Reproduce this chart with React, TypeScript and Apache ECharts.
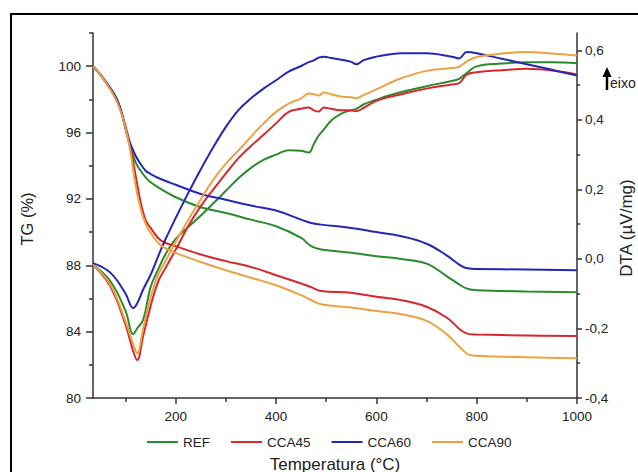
import React, { useEffect, useRef } from "react";
import * as echarts from "echarts";

const seriesNames = ["REF", "CCA45", "CCA60", "CCA90"];
const seriesColors = ["#2b8a2e", "#d6282d", "#2626b4", "#eca243"];

// TG (%) curves, left axis
const tgTemps = [35, 60, 85, 105, 120, 130, 140, 150, 170, 200, 250, 300, 350, 400, 450, 470, 490, 550, 600, 650, 700, 740, 770, 785, 800, 900, 1000];
const tgREF = [100, 99.05, 97.8, 95.6, 94.2, 93.7, 93.3, 93.0, 92.6, 92.1, 91.5, 91.15, 90.75, 90.35, 89.65, 89.15, 88.95, 88.75, 88.55, 88.38, 88.1, 87.35, 86.75, 86.55, 86.5, 86.42, 86.38];
const tgCCA45 = [100, 99.05, 97.75, 95.8, 93.4, 91.8, 90.7, 90.25, 89.5, 89.15, 88.65, 88.25, 87.9, 87.4, 86.9, 86.68, 86.45, 86.35, 86.1, 85.9, 85.5, 84.85, 84.05, 83.85, 83.82, 83.77, 83.73];
const tgCCA60 = [100, 99.1, 97.85, 95.7, 94.6, 94.1, 93.7, 93.5, 93.2, 92.85, 92.3, 91.95, 91.6, 91.3, 90.75, 90.55, 90.45, 90.25, 90.0, 89.75, 89.3, 88.6, 87.95, 87.8, 87.78, 87.74, 87.7];
const tgCCA90 = [100, 99.05, 97.7, 95.6, 92.8, 91.4, 90.5, 89.95, 89.2, 88.75, 88.2, 87.7, 87.25, 86.8, 86.2, 85.9, 85.65, 85.45, 85.25, 85.05, 84.65, 83.85, 82.95, 82.6, 82.55, 82.45, 82.4];

// DTA (µV/mg) curves, right axis
const dtaTemps = [35, 70, 100, 115, 123, 135, 150, 165, 180, 200, 225, 250, 275, 300, 325, 350, 375, 400, 425, 450, 465, 475, 485, 495, 510, 530, 550, 560, 575, 600, 625, 650, 700, 750, 765, 780, 800, 850, 900, 950, 1000];
const dtaREF = [-0.017, -0.065, -0.15, -0.216, -0.2, -0.175, -0.08, -0.03, 0.015, 0.058, 0.092, 0.125, 0.16, 0.196, 0.232, 0.262, 0.285, 0.3, 0.313, 0.311, 0.306, 0.33, 0.355, 0.372, 0.398, 0.418, 0.428, 0.432, 0.445, 0.458, 0.47, 0.48, 0.497, 0.512, 0.518, 0.535, 0.554, 0.562, 0.566, 0.566, 0.563];
const dtaCCA45 = [-0.017, -0.08, -0.19, -0.265, -0.291, -0.222, -0.135, -0.065, -0.025, 0.027, 0.095, 0.152, 0.2, 0.246, 0.29, 0.325, 0.357, 0.39, 0.423, 0.432, 0.436, 0.428, 0.424, 0.436, 0.432, 0.428, 0.427, 0.425, 0.435, 0.455, 0.466, 0.474, 0.49, 0.502, 0.506, 0.53, 0.537, 0.543, 0.547, 0.542, 0.531];
const dtaCCA60 = [-0.012, -0.04, -0.1, -0.141, -0.128, -0.088, -0.045, 0.008, 0.058, 0.118, 0.19, 0.258, 0.322, 0.38, 0.428, 0.462, 0.49, 0.514, 0.539, 0.555, 0.566, 0.571, 0.579, 0.582, 0.578, 0.573, 0.567, 0.56, 0.572, 0.582, 0.588, 0.592, 0.592, 0.582, 0.577, 0.595, 0.592, 0.576, 0.56, 0.544, 0.528];
const dtaCCA90 = [-0.017, -0.075, -0.18, -0.245, -0.271, -0.2, -0.11, -0.045, -0.005, 0.05, 0.113, 0.172, 0.228, 0.274, 0.312, 0.352, 0.39, 0.423, 0.447, 0.462, 0.476, 0.474, 0.47, 0.479, 0.474, 0.467, 0.465, 0.463, 0.472, 0.488, 0.505, 0.52, 0.541, 0.549, 0.553, 0.568, 0.581, 0.591, 0.595, 0.591, 0.585];

const xMajorTicks = [200, 400, 600, 800, 1000];
const xMinorTicks = [100, 300, 500, 700, 900];
const tgMinorTicks = [82, 86, 90, 94, 98, 102];
const dtaMinorTicks = [-0.3, -0.1, 0.1, 0.3, 0.5];

const tgSets = [tgREF, tgCCA45, tgCCA60, tgCCA90];
const dtaSets = [dtaREF, dtaCCA45, dtaCCA60, dtaCCA90];

const FONT = "'Liberation Sans', Arial, sans-serif";
const AXIS_COLOR = "#333";
const TEXT_COLOR = "#222";

function zip(xs: number[], ys: number[]) {
  return xs.map((x, i) => [x, ys[i]]);
}

export default function App() {
  const ref = useRef<HTMLDivElement>(null);

  useEffect(() => {
    if (!ref.current) return;
    const chart = echarts.init(ref.current, null, { renderer: "svg" });

    const lineAxis = { show: true, onZero: false, lineStyle: { color: AXIS_COLOR, width: 1.5 } };
    const tickStyle = { color: AXIS_COLOR, width: 1.5 };
    const labelStyle = { color: TEXT_COLOR, fontSize: 13.5, fontFamily: FONT };

    const series: any[] = [];
    seriesNames.forEach((name, i) => {
      series.push({
        name,
        type: "line",
        xAxisIndex: 0,
        yAxisIndex: 0,
        data: zip(tgTemps, tgSets[i]),
        symbol: "none",
        showSymbol: false,
        smooth: 0.4,
        lineStyle: { color: seriesColors[i], width: 2 },
        itemStyle: { color: seriesColors[i] },
      });
      series.push({
        name,
        type: "line",
        xAxisIndex: 0,
        yAxisIndex: 1,
        data: zip(dtaTemps, dtaSets[i]),
        symbol: "none",
        showSymbol: false,
        smooth: 0.4,
        lineStyle: { color: seriesColors[i], width: 2 },
        itemStyle: { color: seriesColors[i] },
      });
    });

    chart.setOption({
      animation: false,
      backgroundColor: "#ffffff",
      grid: { left: 93, right: 61, top: 33, bottom: 74, containLabel: false },
      legend: {
        data: seriesNames,
        left: 142,
        top: 430,
        icon: "rect",
        itemWidth: 31,
        itemHeight: 2,
        itemGap: 21,
        textStyle: { color: TEXT_COLOR, fontSize: 13.5, fontFamily: FONT },
        selectedMode: false,
      },
      xAxis: [
        {
          type: "value",
          min: 35,
          max: 1000,
          position: "bottom",
          axisLine: lineAxis,
          axisTick: { show: true, length: 6, customValues: xMajorTicks, lineStyle: tickStyle },
          axisLabel: {
            show: true,
            customValues: xMajorTicks,
            margin: 11,
            ...labelStyle,
            formatter: (v: number) => String(v),
          },
          splitLine: { show: false },
        },
        {
          type: "value",
          min: 35,
          max: 1000,
          position: "bottom",
          axisLine: { show: false, onZero: false },
          axisTick: { show: true, length: 4, customValues: xMinorTicks, lineStyle: tickStyle },
          axisLabel: { show: false },
          splitLine: { show: false },
        },
      ],
      yAxis: [
        {
          type: "value",
          min: 80,
          max: 102,
          interval: 4,
          position: "left",
          axisLine: lineAxis,
          axisTick: { show: true, length: 7, lineStyle: tickStyle },
          axisLabel: { margin: 12, showMaxLabel: false, ...labelStyle },
          splitLine: { show: false },
        },
        {
          type: "value",
          min: -0.4,
          max: 0.65,
          interval: 0.2,
          position: "right",
          axisLine: lineAxis,
          axisTick: { show: true, length: 5, lineStyle: tickStyle },
          axisLabel: {
            margin: 8,
            showMaxLabel: false,
            ...labelStyle,
            formatter: (v: number) => v.toFixed(1).replace(".", ","),
          },
          splitLine: { show: false },
        },
        {
          type: "value",
          min: 80,
          max: 102,
          position: "left",
          axisLine: { show: false, onZero: false },
          axisTick: { show: true, length: 4, customValues: tgMinorTicks, lineStyle: tickStyle },
          axisLabel: { show: false },
          splitLine: { show: false },
        },
        {
          type: "value",
          min: -0.4,
          max: 0.65,
          position: "right",
          axisLine: { show: false, onZero: false },
          axisTick: { show: true, length: 3, customValues: dtaMinorTicks, lineStyle: tickStyle },
          axisLabel: { show: false },
          splitLine: { show: false },
        },
      ],
      graphic: [
        {
          type: "rect",
          shape: { x: 11, y: 14, width: 700, height: 520 },
          style: { fill: "none", stroke: "#000", lineWidth: 2 },
          silent: true,
        },
        {
          type: "text",
          x: 27,
          y: 219,
          rotation: Math.PI / 2,
          style: {
            text: "TG (%)",
            fontSize: 16.5,
            fontFamily: FONT,
            fill: TEXT_COLOR,
            align: "center",
            verticalAlign: "middle",
            textAlign: "center",
            textVerticalAlign: "middle",
          },
        },
        {
          type: "text",
          x: 626,
          y: 228,
          rotation: Math.PI / 2,
          style: {
            text: "DTA (µV/mg)",
            fontSize: 17,
            fontFamily: FONT,
            fill: TEXT_COLOR,
            align: "center",
            verticalAlign: "middle",
            textAlign: "center",
            textVerticalAlign: "middle",
          },
        },
        {
          type: "text",
          x: 335,
          y: 464,
          style: {
            text: "Temperatura (°C)",
            fontSize: 17,
            fontFamily: FONT,
            fill: TEXT_COLOR,
            align: "center",
            verticalAlign: "middle",
            textAlign: "center",
            textVerticalAlign: "middle",
          },
        },
        {
          type: "line",
          shape: { x1: 607, y1: 90, x2: 607, y2: 74 },
          style: { stroke: "#000", lineWidth: 2.5 },
        },
        {
          type: "polygon",
          shape: { points: [[602.5, 77], [611.5, 77], [607, 67]] },
          style: { fill: "#000" },
        },
        {
          type: "text",
          x: 610,
          y: 83,
          style: {
            text: "eixo",
            fontSize: 14,
            fontFamily: FONT,
            fill: TEXT_COLOR,
            align: "left",
            verticalAlign: "middle",
            textAlign: "left",
            textVerticalAlign: "middle",
          },
        },
      ],
      series,
    });

    return () => {
      chart.dispose();
    };
  }, []);

  return (
    <div
      ref={ref}
      style={{ position: "absolute", left: 0, top: 0, width: 638, height: 472, background: "#fff" }}
    />
  );
}
